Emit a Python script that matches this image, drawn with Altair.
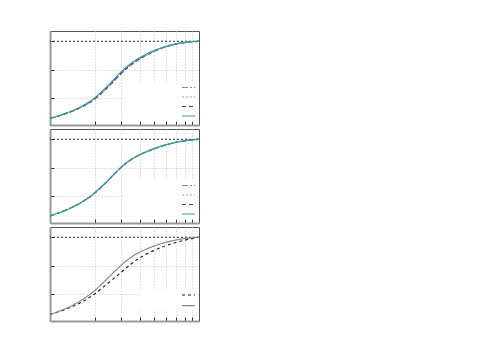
import altair as alt
import pandas as pd

x_vals = [1, 1.25, 1.5, 1.75, 2, 2.5, 3, 3.5, 4, 5, 6, 7, 8, 9, 10]

# Panel 1 series
p1_names = ["s1", "s2", "s3", "s4"]
p1_gray = [0.322, 0.360, 0.401, 0.445, 0.494, 0.613, 0.728, 0.801, 0.852, 0.917, 0.955, 0.977, 0.990, 0.996, 1.0]
p1_red = [0.322, 0.358, 0.397, 0.439, 0.486, 0.602, 0.717, 0.792, 0.845, 0.912, 0.952, 0.975, 0.989, 0.996, 1.0]
p1_blue = [0.322, 0.359, 0.399, 0.442, 0.490, 0.607, 0.722, 0.796, 0.848, 0.914, 0.953, 0.976, 0.989, 0.996, 1.0]
p1_teal = [0.322, 0.362, 0.405, 0.450, 0.500, 0.620, 0.735, 0.808, 0.858, 0.921, 0.957, 0.979, 0.991, 0.997, 1.0]

# Panel 2 series
p2_gray = [0.327, 0.371, 0.419, 0.471, 0.526, 0.648, 0.758, 0.823, 0.866, 0.919, 0.952, 0.974, 0.987, 0.995, 1.0]
p2_red = [0.327, 0.370, 0.418, 0.470, 0.524, 0.646, 0.756, 0.822, 0.865, 0.918, 0.952, 0.973, 0.987, 0.995, 1.0]
p2_blue = [0.327, 0.371, 0.419, 0.471, 0.525, 0.647, 0.757, 0.823, 0.866, 0.919, 0.952, 0.974, 0.987, 0.995, 1.0]
p2_teal = [0.327, 0.372, 0.420, 0.472, 0.527, 0.650, 0.760, 0.825, 0.867, 0.920, 0.953, 0.974, 0.987, 0.995, 1.0]

# Panel 3 series
p3_names = ["t1", "t2"]
p3_dashed = [0.322, 0.362, 0.405, 0.452, 0.502, 0.605, 0.692, 0.765, 0.823, 0.887, 0.927, 0.956, 0.974, 0.989, 1.0]
p3_solid = [0.322, 0.367, 0.418, 0.474, 0.530, 0.652, 0.758, 0.826, 0.871, 0.926, 0.956, 0.977, 0.989, 0.995, 1.0]

x_grid = [2, 3, 4, 5, 6, 7, 8, 9]
y_grid = [0.5, 0.75, 1.0]
ref_level = [1.0]


def frame(names, series):
    rows = []
    for n, vals in zip(names, series):
        for xv, yv in zip(x_vals, vals):
            rows.append({"x": xv, "y": yv, "series": n})
    return pd.DataFrame(rows)


def panel(df, names, colors, dashes, lx, ly, sym_off, row_pad):
    legend = alt.Legend(
        title=None, labelExpr="''", labelFontSize=6, labelOffset=0, orient="none",
        legendX=lx, legendY=ly, symbolOffset=sym_off,
        fillColor="white", padding=1, symbolType="stroke", symbolSize=169,
        symbolStrokeWidth=1.2, clipHeight=8, rowPadding=row_pad,
    )
    xaxis = alt.Axis(values=x_grid, labels=False, title=None, grid=True,
                     gridColor="#c4c4c4", gridDash=[1, 2], tickSize={"expr": "-4"},
                     tickColor="#333", domainColor="#999", domainWidth=2)
    yaxis = alt.Axis(values=y_grid, labels=False, title=None, grid=True,
                     gridColor="#c4c4c4", gridDash=[1, 2], tickSize={"expr": "-4"},
                     tickColor="#333", domainColor="#999", domainWidth=2)
    yscale = alt.Scale(domain=[0.265, 1.09], nice=False, zero=False)
    ref = alt.Chart(pd.DataFrame({"level": ref_level})).mark_rule(
        color="#333", strokeDash=[2, 2], strokeWidth=1
    ).encode(y=alt.Y("level:Q", scale=yscale, axis=yaxis))
    lines = alt.Chart(df).mark_line(strokeWidth=1.2, interpolate="basis", clip=True).encode(
        x=alt.X("x:Q", scale=alt.Scale(type="log", domain=[1, 10], nice=False), axis=xaxis),
        y=alt.Y("y:Q", scale=yscale, axis=yaxis),
        color=alt.Color("series:N", scale=alt.Scale(domain=names, range=colors), legend=legend),
        strokeDash=alt.StrokeDash("series:N", scale=alt.Scale(domain=names, range=dashes), legend=legend),
    )
    return alt.layer(ref, lines).properties(width=149, height=94)


df1 = frame(p1_names, [p1_gray, p1_red, p1_blue, p1_teal])
df2 = frame(p1_names, [p2_gray, p2_red, p2_blue, p2_teal])
df3 = frame(p3_names, [p3_dashed, p3_solid])

c4 = ["#888888", "#f08080", "#3a3aee", "#2aa88c"]
d4 = [[6, 2, 2, 2], [2, 2], [4, 3], [1, 0]]

chart = alt.vconcat(
    panel(df1, p1_names, c4, d4, 73, 51.5, 57, 1.5),
    panel(df2, p1_names, c4, d4, 73, 51.5, 57, 1.5),
    panel(df3, p3_names, ["#222222", "#888888"], [[3, 3], [1, 0]], 90, 63, 40, 2.7),
    spacing=2,
).resolve_scale(color="independent", strokeDash="independent").resolve_legend(
    color="independent", strokeDash="independent"
).properties(
    padding={"left": 41, "top": 22, "right": 5, "bottom": 5}
).configure_view(stroke="#555", strokeWidth=1)

chart.save("out.html", embed_options={"renderer": "svg", "actions": False})
